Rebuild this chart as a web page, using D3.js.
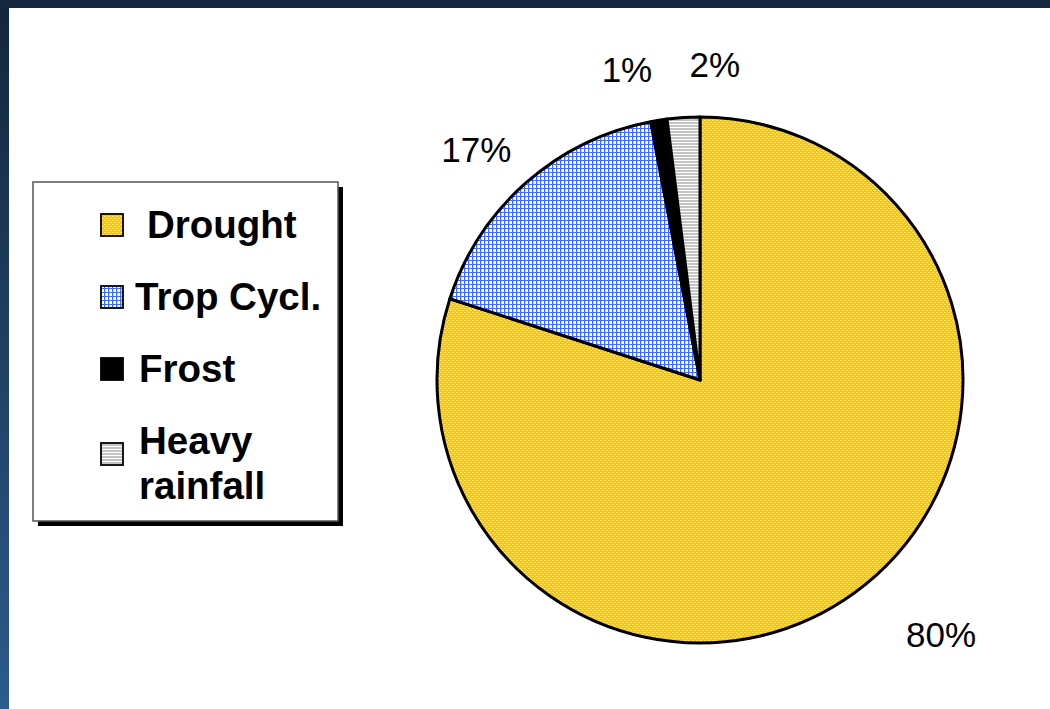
<!DOCTYPE html>
<html>
<head>
<meta charset="utf-8">
<script src="https://cdn.jsdelivr.net/npm/d3@7/dist/d3.min.js"></script>
<style>
  html, body { margin: 0; padding: 0; background: #14283f; }
  svg { display: block; }
</style>
</head>
<body>
<svg id="chart" width="1050" height="709"></svg>
<script>
// Share of losses by hazard type
const categories = ["Drought", "Trop Cycl.", "Frost", "Heavy rainfall"];
const shares = [80, 17, 1, 2];
const valueLabels = ["80%", "17%", "1%", "2%"];
// Legend text, one array of lines per category
const legendLines = [["Drought"], ["Trop Cycl."], ["Frost"], ["Heavy", "rainfall"]];

const W = 1050, H = 709;
const svg = d3.select("#chart");
const defs = svg.append("defs");

// Page backdrop: navy frame with a blue gradient down the left edge
const grad = defs.append("linearGradient").attr("id", "edge")
  .attr("x1", 0).attr("y1", 0).attr("x2", 0).attr("y2", 1);
grad.append("stop").attr("offset", 0).attr("stop-color", "#14263d");
grad.append("stop").attr("offset", 1).attr("stop-color", "#2c5b8c");
svg.append("rect").attr("width", W).attr("height", H).attr("fill", "#142840");
svg.append("rect").attr("x", 0).attr("y", 8).attr("width", 9).attr("height", H - 8).attr("fill", "url(#edge)");
svg.append("rect").attr("x", 9).attr("y", 8).attr("width", W - 9).attr("height", H - 8).attr("fill", "#ffffff");

// Fill patterns
const pDrought = defs.append("pattern").attr("id", "p-drought")
  .attr("patternUnits", "userSpaceOnUse").attr("width", 4).attr("height", 4);
pDrought.append("rect").attr("width", 4).attr("height", 4).attr("fill", "#ffc600");
pDrought.append("rect").attr("x", 0).attr("y", 0).attr("width", 2).attr("height", 1).attr("fill", "#ffe47a");
pDrought.append("rect").attr("x", 2).attr("y", 2).attr("width", 2).attr("height", 1).attr("fill", "#ffe47a");

const pTrop = defs.append("pattern").attr("id", "p-trop")
  .attr("patternUnits", "userSpaceOnUse").attr("width", 4).attr("height", 4);
pTrop.append("rect").attr("width", 4).attr("height", 4).attr("fill", "#ffffff");
pTrop.append("rect").attr("x", 0).attr("y", 0).attr("width", 1).attr("height", 4).attr("fill", "#3f6cff");
pTrop.append("rect").attr("x", 0).attr("y", 0).attr("width", 4).attr("height", 1).attr("fill", "#3f6cff");
pTrop.append("rect").attr("x", 1).attr("y", 1).attr("width", 1).attr("height", 3).attr("fill", "#c4d2ff");

const pRain = defs.append("pattern").attr("id", "p-rain")
  .attr("patternUnits", "userSpaceOnUse").attr("width", 4).attr("height", 3);
pRain.append("rect").attr("width", 4).attr("height", 3).attr("fill", "#ffffff");
pRain.append("rect").attr("x", 0).attr("y", 0).attr("width", 4).attr("height", 2).attr("fill", "#c4c4c4");

const fills = d3.scaleOrdinal()
  .domain(categories)
  .range(["url(#p-drought)", "url(#p-trop)", "#000000", "url(#p-rain)"]);

// Pie
const cx = 700, cy = 380, R = 263;
const pie = d3.pie().sort(null).value(d => d.v);
const data = categories.map((c, i) => ({ c, v: shares[i], label: valueLabels[i] }));
const arcs = pie(data);
const arc = d3.arc().innerRadius(0).outerRadius(R);
const labelArc = d3.arc().innerRadius(320).outerRadius(320);

const g = svg.append("g").attr("transform", `translate(${cx},${cy})`);
g.selectAll("path.slice").data(arcs).join("path")
  .attr("class", "slice")
  .attr("d", arc)
  .attr("fill", d => fills(d.data.c))
  .attr("stroke", "#000")
  .attr("stroke-width", 3)
  .attr("stroke-linejoin", "round");

// Value labels sit outside the rim, nudged clear of their neighbours
const labelNudge = [[53, -4], [-12, 10], [-23, 6], [35, 4]];
g.selectAll("text.val").data(arcs).join("text")
  .attr("class", "val")
  .attr("transform", (d, i) => {
    const [x, y] = labelArc.centroid(d);
    return `translate(${x + labelNudge[i][0]},${y + labelNudge[i][1]})`;
  })
  .attr("text-anchor", "middle")
  .attr("dy", "0.35em")
  .attr("font-family", "Liberation Sans, Arial, sans-serif")
  .attr("font-size", 35)
  .attr("fill", "#000")
  .text(d => d.data.label);

// Legend box with drop shadow
const lg = svg.append("g");
const box = { x: 33, y: 182, w: 305, h: 339 };
lg.append("rect").attr("x", box.x + 5).attr("y", box.y + 5).attr("width", box.w).attr("height", box.h).attr("fill", "#000");
lg.append("rect").attr("x", box.x).attr("y", box.y).attr("width", box.w).attr("height", box.h)
  .attr("fill", "#fff").attr("stroke", "#555").attr("stroke-width", 1.5);

const rowGap = 72, lineH = 45, firstBaseline = 238;
let baseline = firstBaseline;
const textX = [147, 135, 139, 139];
legendLines.forEach((lines, i) => {
  const sy = lines.length > 1 ? baseline - 11 : baseline - 24;
  lg.append("rect")
    .attr("x", 101).attr("y", sy).attr("width", 22).attr("height", 22)
    .attr("fill", fills(categories[i]))
    .attr("stroke", "#000").attr("stroke-width", 1.8);
  const t = lg.append("text")
    .attr("font-family", "Liberation Sans, Arial, sans-serif")
    .attr("font-weight", "bold")
    .attr("font-size", 38.5)
    .attr("fill", "#000");
  lines.forEach((ln, j) => {
    t.append("tspan").attr("x", textX[i]).attr("y", baseline + j * lineH).text(ln);
  });
  baseline += (lines.length - 1) * lineH + rowGap;
});
</script>
</body>
</html>
